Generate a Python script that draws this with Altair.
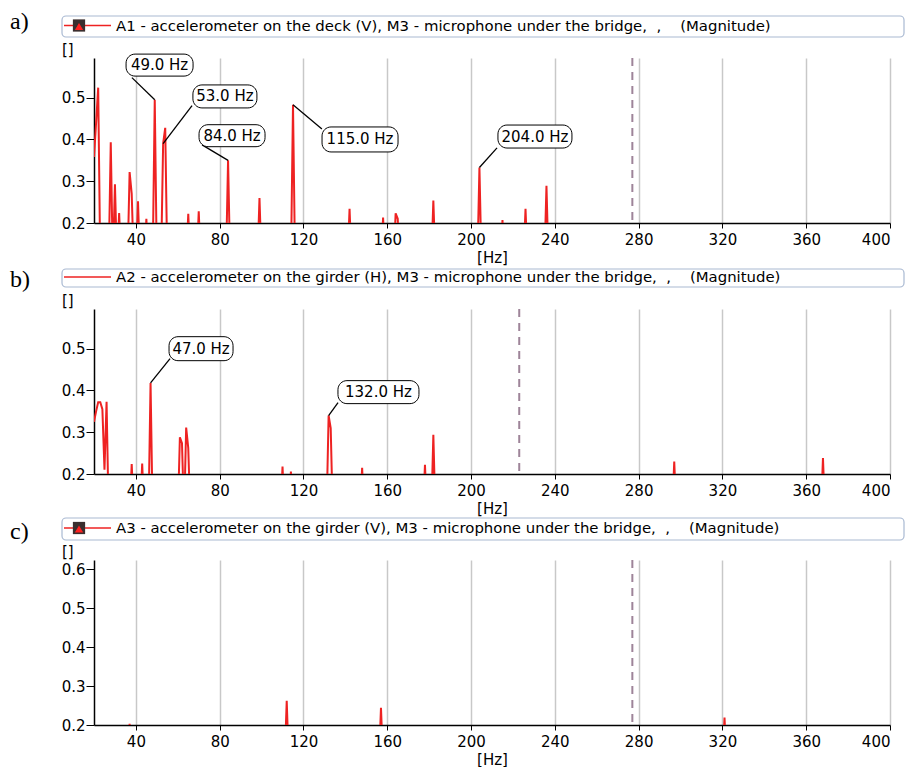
import altair as alt
import pandas as pd

# ---------------- data ----------------
X_TICKS = [40, 80, 120, 160, 200, 240, 280, 320, 360, 400]

# panel a) A1 - deck (V)
FREQ_A = [20, 21, 22, 28, 30, 32, 37, 38, 41, 45, 49, 53, 54, 65, 70, 84, 99, 115,
          142, 158, 164, 165, 182, 204, 215, 226, 236]
MAG_A = [0.358, 0.44, 0.524, 0.393, 0.293, 0.224, 0.322, 0.27, 0.252, 0.21, 0.495, 0.39,
         0.428, 0.222, 0.228, 0.35, 0.26, 0.483, 0.234, 0.213, 0.223, 0.21, 0.254, 0.333,
         0.207, 0.234, 0.289]
MARK_A = 277
PEAK_LABELS_A = ["49.0 Hz", "53.0 Hz", "84.0 Hz", "115.0 Hz", "204.0 Hz"]
PEAK_HZ_A = [49, 53, 84, 115, 204]
PEAK_VAL_A = [0.495, 0.39, 0.35, 0.483, 0.333]

# panel b) A2 - girder (H)
FREQ_B = [20, 21, 22, 23, 24, 25, 26, 38, 43, 47, 61, 62, 64, 65, 110, 114, 132, 133,
          148, 178, 182, 297, 368]
MAG_B = [0.325, 0.35, 0.372, 0.372, 0.355, 0.21, 0.373, 0.224, 0.225, 0.418, 0.288, 0.274,
         0.311, 0.262, 0.218, 0.206, 0.34, 0.31, 0.215, 0.222, 0.294, 0.23, 0.238]
MARK_B = 223
PEAK_LABELS_B = ["47.0 Hz", "132.0 Hz"]
PEAK_HZ_B = [47, 132]
PEAK_VAL_B = [0.418, 0.34]

# panel c) A3 - girder (V)
FREQ_C = [37, 112, 157, 321]
MAG_C = [0.203, 0.262, 0.244, 0.219]
MARK_C = 277

NB = "\u00a0"
TAIL = " M3 - microphone under the bridge," + NB * 2 + "," + NB * 4 + "(Magnitude)"
TITLES = [
    "A1 - accelerometer on the deck (V)," + TAIL,
    "A2 - accelerometer on the girder (H)," + TAIL,
    "A3 - accelerometer on the girder (V)," + TAIL,
]
LETTERS = ["a)", "b)", "c)"]

# ---------------- layout / style (not data) ----------------
# callout box centre (Hz, value), box size (px), leader end (Hz, value)
BOX_A = [(51.3, 0.578, 67, 22, 38.1, 0.548),
         (82.5, 0.503, 64, 23, 66.8, 0.481),
         (85.9, 0.409, 66, 22, 71.6, 0.387),
         (147.0, 0.400, 76, 25, 128.8, 0.425),
         (230.5, 0.407, 74, 23, 212.4, 0.380)]
BOX_B = [(71.1, 0.500, 64, 24, 56.3, 0.476),
         (155.8, 0.396, 81, 23, 136.5, 0.371)]
LETTER_Y = [-36, -29, -28]
HEAD_Y = [(-42, -21), (-40, -22), (-42, -20)]

W, H = 796, 165
RED = "#ee2222"
FONT = "DejaVu Sans"
FS = 15
TFS = 14.9


def series(freqs, mags, floor=0.1):
    pts = dict(zip(freqs, mags))
    out = dict(pts)
    for f in freqs:
        for n in (f - 1, f + 1):
            if n not in pts and 20 <= n <= 400:
                out[n] = floor
    out.setdefault(20, floor)
    out.setdefault(400, floor)
    return pd.DataFrame(sorted(out.items()), columns=["f", "m"])


def panel(idx, freqs, mags, mark, icon, ymax, yticks,
          labels=(), phz=(), pval=(), boxes=()):
    title, letter = TITLES[idx], LETTERS[idx]
    hy0, hy1 = HEAD_Y[idx]
    hc = (hy0 + hy1) / 2
    xs = alt.Scale(domain=[20, 400], nice=False, zero=False)
    ys = alt.Scale(domain=[0.2, ymax], nice=False, zero=False)
    xax = alt.Axis(values=X_TICKS, title="[Hz]", grid=True, gridColor="#c8c8c8",
                   gridWidth=1.5, domainColor="black", domainWidth=1.5, tickColor="black",
                   tickSize=5, labelPadding=4, titlePadding=3, format="d",
                   labelFont=FONT, labelFontSize=FS, labelColor="black",
                   titleFont=FONT, titleFontSize=FS, titleColor="black",
                   titleFontWeight="normal")
    yax = alt.Axis(values=yticks, title=None, grid=False, format=".1f", domainColor="black",
                   domainWidth=1.5, tickColor="black", tickSize=8, labelPadding=1,
                   labelFont=FONT, labelFontSize=FS, labelColor="black")
    df = series(freqs, mags)
    line = alt.Chart(df).mark_line(color=RED, strokeWidth=2, clip=True).encode(
        x=alt.X("f:Q", scale=xs, axis=xax),
        y=alt.Y("m:Q", scale=ys, axis=yax),
    )
    dash = alt.Chart(pd.DataFrame({"f": [mark]})).mark_rule(
        color="#9e8499", strokeWidth=2, strokeDash=[8, 6]).encode(x=alt.X("f:Q", scale=xs))
    layers = [line, dash]

    if labels:
        cd = pd.DataFrame({
            "lab": list(labels), "px": list(phz), "pv": list(pval),
            "bx": [b[0] for b in boxes], "bv": [b[1] for b in boxes],
            "ex": [b[4] for b in boxes], "ev": [b[5] for b in boxes],
        })
        lead = alt.Chart(cd).mark_rule(color="black", strokeWidth=1.3).encode(
            x=alt.X("px:Q", scale=xs), y=alt.Y("pv:Q", scale=ys), x2="ex:Q", y2="ev:Q")
        layers.append(lead)
        for i, b in enumerate(boxes):
            one = cd.iloc[[i]]
            rect = alt.Chart(one).mark_rect(
                fill="white", stroke="black", strokeWidth=1, cornerRadius=9,
                xOffset=-b[2] / 2, x2Offset=b[2] / 2, yOffset=-b[3] / 2, y2Offset=b[3] / 2,
            ).encode(x=alt.X("bx:Q", scale=xs), x2="bx:Q", y=alt.Y("bv:Q", scale=ys), y2="bv:Q")
            layers.append(rect)
        txt = alt.Chart(cd).mark_text(font=FONT, fontSize=FS, color="black",
                                      align="center", baseline="middle").encode(
            x=alt.X("bx:Q", scale=xs), y=alt.Y("bv:Q", scale=ys), text="lab:N")
        layers.append(txt)

    one = pd.DataFrame({"k": [0]})
    head = alt.Chart(one).mark_rect(fill="white", stroke="#a9b9d2", strokeWidth=1.2,
                                    cornerRadius=4).encode(
        x=alt.value(-32), x2=alt.value(810), y=alt.value(hy0), y2=alt.value(hy1))
    icon_line = alt.Chart(one).mark_rule(color=RED, strokeWidth=1.3).encode(
        x=alt.value(-30), x2=alt.value(17), y=alt.value(hc - 1))
    layers += [head, icon_line]
    if icon:
        sq = alt.Chart(one).mark_point(shape="square", filled=True, opacity=1,
                                        color="#3a2e2e", size=150).encode(
            x=alt.value(-15), y=alt.value(hc - 1))
        tri = alt.Chart(one).mark_point(shape="triangle-up", filled=True, opacity=1,
                                         color="#ff2020", size=70).encode(
            x=alt.value(-15), y=alt.value(hc))
        layers += [sq, tri]
    ttl = alt.Chart(one).mark_text(text=title, font=FONT, fontSize=TFS, color="black",
                                   align="left", baseline="middle").encode(
        x=alt.value(22), y=alt.value(hc))
    unit = alt.Chart(one).mark_text(text="[]", font=FONT, fontSize=FS, color="black",
                                    align="left", baseline="middle").encode(
        x=alt.value(-32), y=alt.value(-8))
    let = alt.Chart(one).mark_text(text=letter, font="Liberation Serif", fontSize=24,
                                   color="black", align="left", baseline="middle").encode(
        x=alt.value(-84), y=alt.value(LETTER_Y[idx]))
    layers += [ttl, unit, let]
    return alt.layer(*layers).properties(width=W, height=H)


pa = panel(0, FREQ_A, MAG_A, MARK_A, True, 0.595, [0.2, 0.3, 0.4, 0.5],
           PEAK_LABELS_A, PEAK_HZ_A, PEAK_VAL_A, BOX_A)
pb = panel(1, FREQ_B, MAG_B, MARK_B, False, 0.595, [0.2, 0.3, 0.4, 0.5],
           PEAK_LABELS_B, PEAK_HZ_B, PEAK_VAL_B, BOX_B)
pc = panel(2, FREQ_C, MAG_C, MARK_C, True, 0.624, [0.2, 0.3, 0.4, 0.5, 0.6])

chart = alt.vconcat(pa, pb, pc, spacing=86, bounds="flush").properties(
    padding={"left": 2, "top": 2, "right": 0, "bottom": 0},
    background="white",
).configure_view(stroke=None)

chart.save("out.html", embed_options={"renderer": "svg", "actions": False})
